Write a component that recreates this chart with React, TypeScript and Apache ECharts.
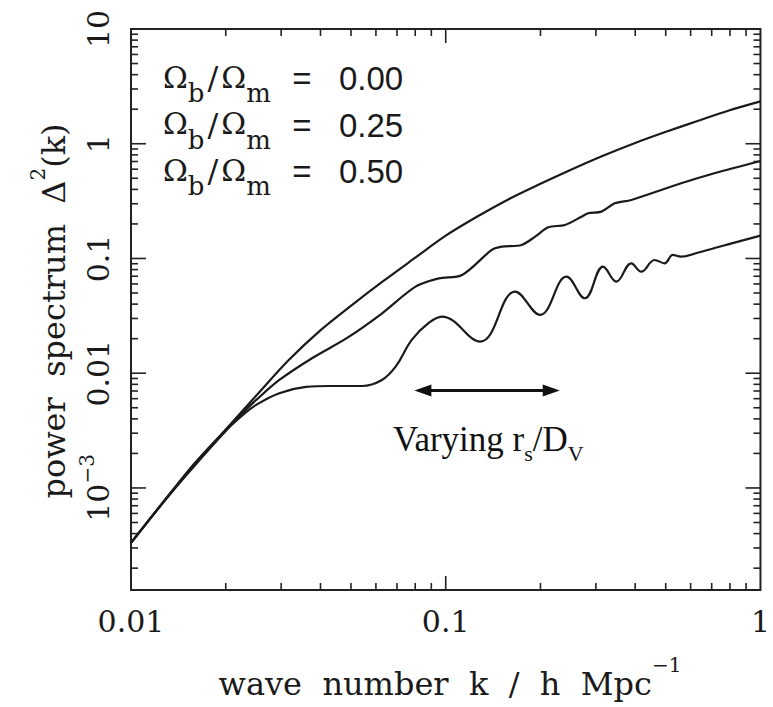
import React, { useEffect, useRef } from "react";
import * as echarts from "echarts";

// ---- data ----
// Omega_b/Omega_m = 0.00
const kTop = [0.01, 0.0126, 0.0158, 0.02, 0.0251, 0.0316, 0.0398, 0.0501, 0.0631, 0.0794, 0.1, 0.126, 0.158, 0.2, 0.251, 0.316, 0.398, 0.501, 0.631, 0.794, 1.0];
const pTop = [3.32e-4, 7.41e-4, 1.6e-3, 3.24e-3, 6.46e-3, 0.0129, 0.0234, 0.0389, 0.0631, 0.1, 0.158, 0.232, 0.327, 0.447, 0.596, 0.785, 1.01, 1.27, 1.58, 1.95, 2.34];

// Omega_b/Omega_m = 0.25
const kMid = [0.01, 0.01297, 0.01615, 0.0201, 0.0226, 0.025, 0.0296, 0.0377, 0.0486, 0.0628, 0.0802, 0.0951, 0.1127, 0.14, 0.1507, 0.1743, 0.1923, 0.2118, 0.2393, 0.27, 0.2835, 0.3126, 0.3443, 0.389, 0.5598, 0.7137, 1.0];
const pMid = [3.32e-4, 8.13e-4, 1.64e-3, 3.2e-3, 4.5e-3, 5.85e-3, 8.73e-3, 0.01358, 0.0203, 0.0333, 0.0568, 0.0671, 0.0718, 0.1186, 0.1268, 0.1312, 0.1549, 0.187, 0.1959, 0.2312, 0.2477, 0.2559, 0.3027, 0.3236, 0.4519, 0.5527, 0.708];

// Omega_b/Omega_m = 0.50
const kLow = [0.01, 0.01297, 0.01615, 0.0201, 0.0226, 0.025, 0.0296, 0.036, 0.0427, 0.0542, 0.0627, 0.0693, 0.078, 0.0883, 0.0973, 0.1288, 0.1662, 0.1994, 0.242, 0.2767, 0.3162, 0.3483, 0.3887, 0.418, 0.461, 0.4958, 0.5266, 0.5596, 0.631, 0.794, 1.0];
const pLow = [3.32e-4, 8.13e-4, 1.64e-3, 3.2e-3, 4.3e-3, 5.3e-3, 6.7e-3, 7.59e-3, 7.74e-3, 7.74e-3, 8.73e-3, 0.0114, 0.0195, 0.0274, 0.0311, 0.01884, 0.0514, 0.0322, 0.0694, 0.045, 0.0848, 0.0628, 0.0908, 0.0767, 0.097, 0.0908, 0.1073, 0.1038, 0.1122, 0.1334, 0.158];

const baryonFractions = ["0.00", "0.25", "0.50"];

const xTickValues = [0.01, 0.1, 1];
const xTickLabels = ["0.01", "0.1", "1"];
const yTickValues = [0.001, 0.01, 0.1, 1, 10];
const yTickLabels = ["{b|10}{s|\u22123}", "0.01", "0.1", "1", "10"];
const minorMultipliers = [2, 3, 4, 5, 6, 7, 8, 9];
const xDecades = [0.01, 0.1];
const yDecades = [1e-4, 1e-3, 1e-2, 0.1, 1];

const X_MIN = 0.01;
const X_MAX = 1;
const Y_MIN = 1.29e-4;
const Y_MAX = 10;

// double arrow "Varying r_s/D_V"
const arrowK = [0.0846, 0.2164];
const arrowP = 7.08e-3;

const INK = "#1a1a1a";
const SERIF = "DejaVu Serif";

function findLabel(v: number, values: number[], labels: string[]) {
  for (let i = 0; i < values.length; i++) {
    if (Math.abs(Math.log10(v) - Math.log10(values[i])) < 1e-3) return labels[i];
  }
  return "";
}

export default function App() {
  const ref = useRef<HTMLDivElement>(null);

  useEffect(() => {
    if (!ref.current) return;
    const chart = echarts.init(ref.current, null, { renderer: "svg" });

    const tickItems: number[][] = [];
    xDecades.forEach((d) =>
      minorMultipliers.forEach((m) => {
        const v = d * m;
        tickItems.push([v, Y_MIN, 0, 7], [v, Y_MAX, 1, 7]);
      })
    );
    xTickValues
      .filter((v) => v > X_MIN && v < X_MAX)
      .forEach((v) => tickItems.push([v, Y_MIN, 0, 14], [v, Y_MAX, 1, 14]));
    yDecades.forEach((d) =>
      minorMultipliers.forEach((m) => {
        const v = d * m;
        if (v > Y_MIN && v < Y_MAX) tickItems.push([X_MIN, v, 2, 7], [X_MAX, v, 3, 7]);
      })
    );
    yTickValues
      .filter((v) => v > Y_MIN && v < Y_MAX)
      .forEach((v) => tickItems.push([X_MIN, v, 2, 15], [X_MAX, v, 3, 15]));

    const lineSeries = (data: number[][], smooth: number, extra: any = {}) => ({
      type: "line",
      data,
      showSymbol: false,
      symbol: "none",
      smooth,
      silent: true,
      lineStyle: { color: INK, width: 2.2 },
      ...extra,
    });

    const legendGraphics = baryonFractions.map((f, i) => ({
      type: "text",
      left: 163,
      top: 62 + i * 46.5,
      silent: true,
      style: {
        text: `{o|\u03A9}{s|b}{l|/}{o|\u03A9}{s|m}{e|  =   ${f}}`,
        fill: INK,
        rich: {
          o: { fontFamily: SERIF, fontSize: 30, lineHeight: 30, verticalAlign: "top", fill: INK },
          l: { fontFamily: SERIF, fontSize: 32, lineHeight: 30, verticalAlign: "top", padding: [0, 3, 0, 0], fill: INK },
          s: { fontFamily: SERIF, fontSize: 26, padding: [18, 3, 0, 0], verticalAlign: "bottom", fill: INK },
          e: { fontFamily: "Liberation Sans", fontSize: 33, lineHeight: 30, verticalAlign: "top", fill: INK },
        },
      },
    }));

    const option: any = {
      animation: false,
      backgroundColor: "#ffffff",
      grid: {
        show: true,
        left: 131,
        top: 29,
        right: 10,
        bottom: 117,
        borderColor: "#222",
        borderWidth: 2,
        backgroundColor: "transparent",
      },
      xAxis: {
        type: "log",
        logBase: 10,
        min: X_MIN,
        max: X_MAX,
        axisLine: { show: false },
        axisTick: { show: false },
        splitLine: { show: false },
        axisLabel: {
          margin: 16,
          fontFamily: SERIF,
          fontSize: 30,
          color: INK,
          formatter: (v: number) => findLabel(v, xTickValues, xTickLabels),
        },
      },
      yAxis: {
        type: "log",
        logBase: 10,
        min: Y_MIN,
        max: Y_MAX,
        axisLine: { show: false },
        axisTick: { show: false },
        splitLine: { show: false },
        axisLabel: {
          rotate: 90,
          margin: 18,
          fontFamily: SERIF,
          fontSize: 30,
          color: INK,
          formatter: (v: number) => findLabel(v, yTickValues, yTickLabels),
          rich: {
            b: { fontFamily: SERIF, fontSize: 30, lineHeight: 30, verticalAlign: "bottom", color: INK },
            s: { fontFamily: SERIF, fontSize: 20, verticalAlign: "top", padding: [0, 0, 16, 0], color: INK },
          },
        },
      },
      series: [
        lineSeries(kTop.map((k, i) => [k, pTop[i]]), 0.3),
        lineSeries(kMid.map((k, i) => [k, pMid[i]]), 0.3),
        lineSeries(kLow.map((k, i) => [k, pLow[i]]), 0.4, {
          markLine: {
            silent: true,
            symbol: ["triangle", "triangle"],
            symbolSize: [12, 17],
            label: { show: false },
            lineStyle: { color: "#111", width: 3, type: "solid" },
            emphasis: { disabled: true },
            data: [[{ coord: [arrowK[0], arrowP] }, { coord: [arrowK[1], arrowP] }]],
          },
        }),
        {
          type: "custom",
          silent: true,
          clip: false,
          dimensions: ["x", "y", "side", "len"],
          encode: { x: 0, y: 1 },
          data: tickItems,
          renderItem: (params: any, api: any) => {
            const p = api.coord([api.value(0), api.value(1)]);
            const side = api.value(2);
            const len = api.value(3);
            const dx = side === 2 ? len : side === 3 ? -len : 0;
            const dy = side === 0 ? -len : side === 1 ? len : 0;
            return {
              type: "line",
              shape: { x1: p[0], y1: p[1], x2: p[0] + dx, y2: p[1] + dy },
              style: { stroke: "#222", lineWidth: 1.6 },
            };
          },
        },
      ],
      graphic: [
        ...legendGraphics,
        {
          type: "text",
          x: 450,
          y: 700,
          silent: true,
          style: {
            text: "{t|wave  number  k  /  h  Mpc}{s|\u22121}",
            align: "center",
            verticalAlign: "bottom",
            fill: INK,
            rich: {
              t: { fontFamily: SERIF, fontSize: 32, lineHeight: 32, verticalAlign: "bottom", fill: INK },
              s: { fontFamily: SERIF, fontSize: 20, verticalAlign: "top", padding: [0, 0, 25, 0], fill: INK },
            },
          },
        },
        {
          type: "text",
          x: 70,
          y: 311,
          rotation: Math.PI / 2,
          silent: true,
          style: {
            text: "{t|power  spectrum  \u0394}{s|2}{t|(k)}",
            align: "center",
            verticalAlign: "bottom",
            fill: INK,
            rich: {
              t: { fontFamily: SERIF, fontSize: 32, lineHeight: 32, verticalAlign: "bottom", fill: INK },
              s: { fontFamily: SERIF, fontSize: 20, verticalAlign: "top", padding: [0, 0, 22, 0], fill: INK },
            },
          },
        },
        {
          type: "text",
          left: 393,
          top: 422,
          silent: true,
          style: {
            text: "{a|Varying r}{s|s}{a|/D}{s|V}",
            fill: "#111",
            rich: {
              a: { fontFamily: "Liberation Serif", fontSize: 35, lineHeight: 36, verticalAlign: "top", fill: "#111" },
              s: { fontFamily: "Liberation Serif", fontSize: 22, padding: [20, 0, 0, 0], verticalAlign: "bottom", fill: "#111" },
            },
          },
        },
      ],
    };

    chart.setOption(option);
    return () => chart.dispose();
  }, []);

  return (
    <div
      ref={ref}
      style={{ position: "absolute", left: 0, top: 0, width: 773, height: 707, background: "#fff" }}
    />
  );
}
